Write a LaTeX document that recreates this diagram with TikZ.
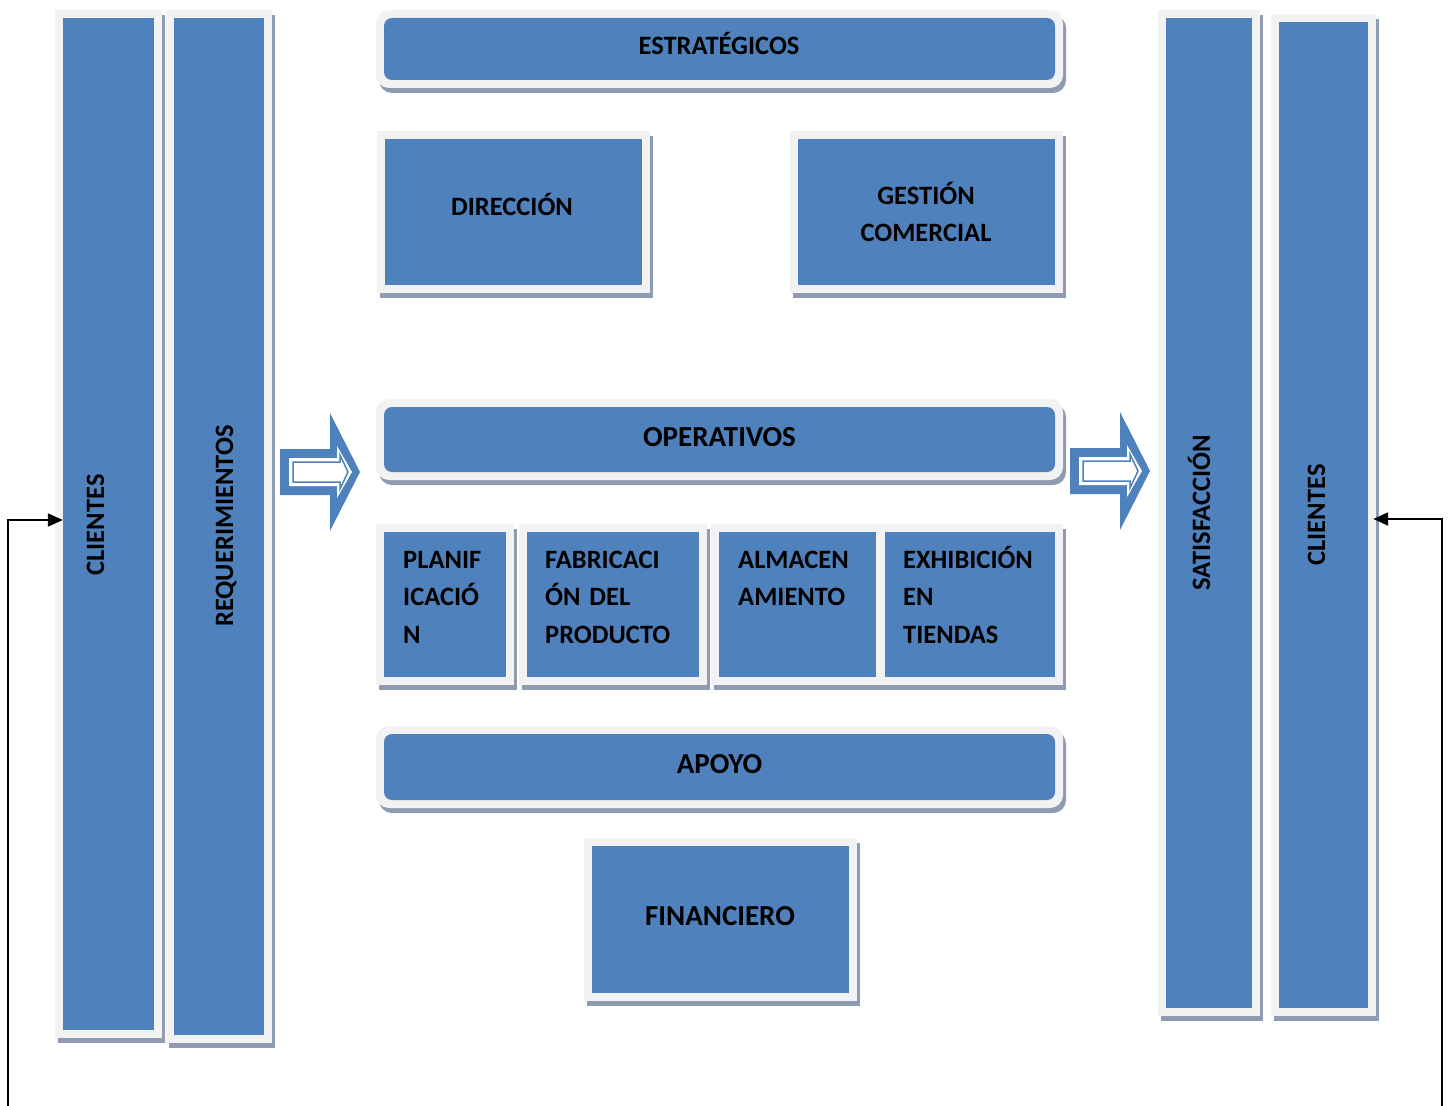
\documentclass[tikz,border=0pt]{standalone}
\usepackage{fontspec}
\setmainfont{Carlito}
\usetikzlibrary{fit,arrows.meta}
\definecolor{bluec}{HTML}{4F81BD}
\definecolor{framec}{HTML}{F2F2F2}
\definecolor{shadowc}{HTML}{8E9BB0}
\tikzset{
  panelin/.style={fill=bluec, inner sep=0pt, draw=none},
  lbl/.style={font=\bfseries\fontsize{26.5}{37.5}\selectfont, text=black, inner sep=0pt},
  lblbig/.style={font=\bfseries\fontsize{29}{38}\selectfont, text=black, inner sep=0pt},
  conn/.style={line width=2pt, -{Triangle[length=15pt,width=13pt]}},
  blockarrow/.style={fill=bluec, draw=none},
}
% #1 name, #2 x1, #3 y1, #4 x2, #5 y2, #6 outer corner radius, #7 inner corner radius
\newcommand\mypanel[7]{%
  \fill[shadowc, rounded corners=#6] (#2+3,#3+5) rectangle (#4+3,#5+5);
  \fill[framec, rounded corners=#6] (#2,#3) rectangle (#4,#5);
  \node[panelin, rounded corners=#7, fit={(#2+8,#3+8) (#4-8,#5-8)}] (#1) {};
}
\newcommand\myblockarrow{%
  \fill[bluec] (0,0) -- (50,0) -- (50,-36) -- (80,23) -- (50,82) -- (50,46) -- (0,46) -- cycle;
  \fill[white] (9,9) -- (57,9) -- (57,-3) -- (72,23) -- (57,49) -- (57,37) -- (9,37) -- cycle;
  \draw[bluec, line width=1.5pt] (13,13) -- (60,13) -- (60,6) -- (68,23) -- (60,40) -- (60,33) -- (13,33) -- cycle;
}
\begin{document}
\begin{tikzpicture}[x=1pt,y=-1pt]
\useasboundingbox (0,0) rectangle (1450,1105);

% left columns
\mypanel{cliL}{55}{10}{162}{1038}{0}{0}
\mypanel{req}{166}{10}{272}{1043}{0}{0}
% right columns
\mypanel{sat}{1158}{10}{1260}{1016}{0}{0}
\mypanel{cliR}{1271}{14}{1376}{1016}{0}{0}

% centre
\mypanel{estr}{376}{10}{1063}{88}{13}{8}
\mypanel{dir}{377}{131}{650}{293}{0}{0}
\mypanel{gest}{790}{131}{1063}{293}{0}{0}
\mypanel{oper}{376}{399}{1063}{480}{13}{8}
\mypanel{plan}{376}{524}{514}{685}{0}{0}
\mypanel{fab}{519}{524}{707}{685}{0}{0}
\mypanel{alm}{711}{524}{884}{685}{0}{0}
\mypanel{exh}{877}{524}{1063}{685}{0}{0}
\mypanel{apoyo}{376}{726}{1063}{808}{13}{8}
\mypanel{fin}{584}{838}{857}{1001}{0}{0}

% texts
\node[lbl, rotate=90, anchor=base] (tcliL) at (104,525) {CLIENTES};
\node[lbl, rotate=90, anchor=base] (treq) at (233,526) {REQUERIMIENTOS};
\node[lbl, rotate=90, anchor=base] (tsat) at (1210,513) {SATISFACCIÓN};
\node[lbl, rotate=90, anchor=base] (tcliR) at (1325,515) {CLIENTES};

\node[lbl, anchor=base] (testr) at (719,55) {ESTRATÉGICOS};
\node[lbl, anchor=base] (tdir) at (512,215) {DIRECCIÓN};
\node[lbl, anchor=base, text width=250pt, align=center] (tgest) at (926,204) {GESTIÓN\\COMERCIAL};
\node[lblbig, anchor=base] (toper) at (719.5,446.5) {OPERATIVOS};
\node[lbl, anchor=base west, text width=150pt, align=left] (tplan) at (403,568) {PLANIF\\ICACIÓ\\N};
\node[lbl, anchor=base west, text width=160pt, align=left] (tfab) at (545,568) {FABRICACI\\ÓN DEL\\PRODUCTO};
\node[lbl, anchor=base west, text width=150pt, align=left] (talm) at (738,568) {ALMACEN\\AMIENTO};
\node[lbl, anchor=base west, text width=150pt, align=left] (texh) at (903,568) {EXHIBICIÓN\\EN\\TIENDAS};
\node[lblbig, anchor=base] (tapoyo) at (719.5,773) {APOYO};
\node[lblbig, anchor=base] (tfin) at (720,925.5) {FINANCIERO};

% block arrows
\begin{scope}[shift={(280,449)}]
  \myblockarrow
\end{scope}
\begin{scope}[shift={(1070,448)}]
  \myblockarrow
\end{scope}

% connectors
\coordinate (botL) at (8,1106);
\coordinate (botR) at (1442,1106);
\draw[conn] (botL) |- ([yshift=4pt]cliL.west);
\draw[conn] (botR) |- ([xshift=5pt,yshift=-4pt]cliR.east);
\end{tikzpicture}
\end{document}
